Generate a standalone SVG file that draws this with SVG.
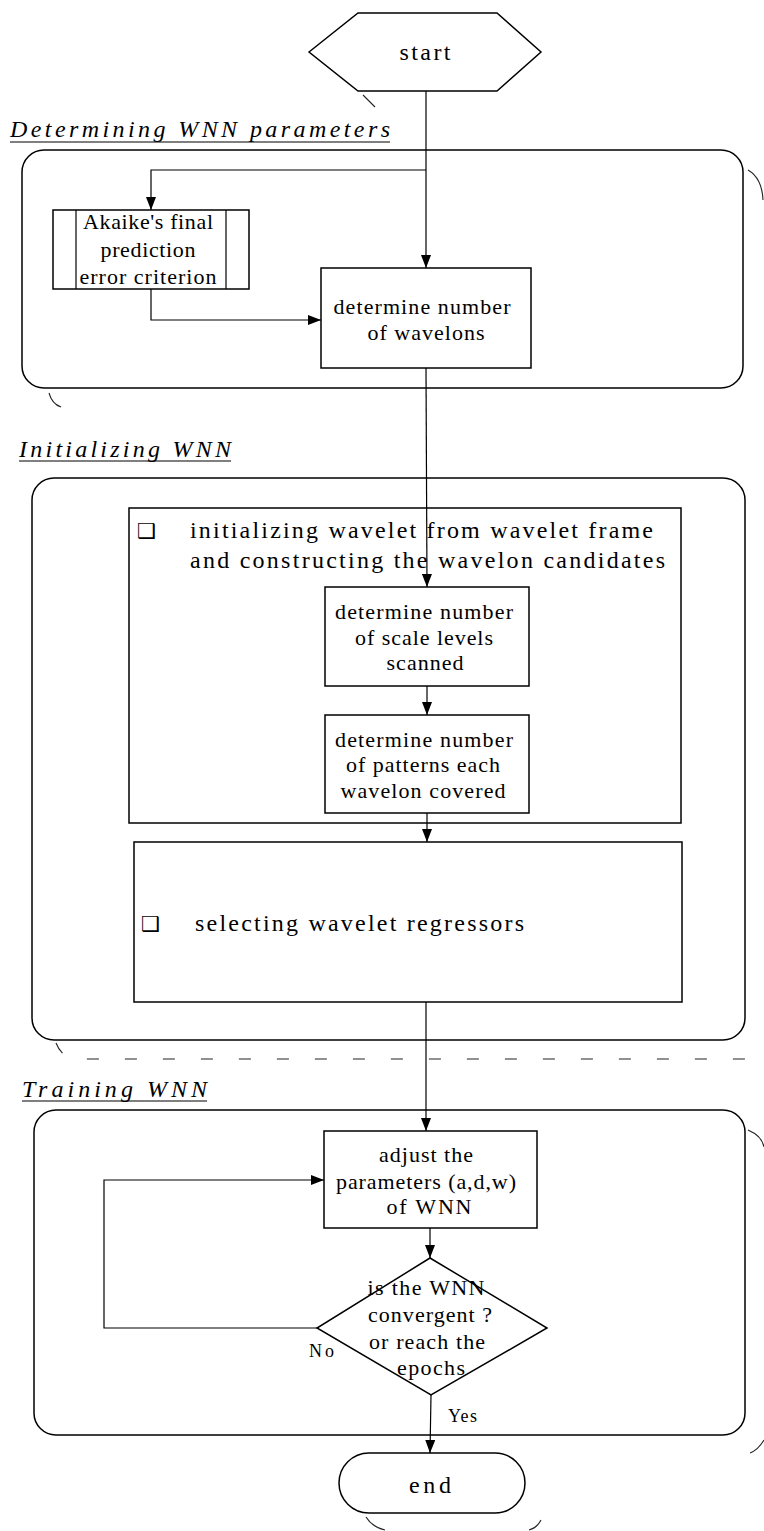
<svg xmlns="http://www.w3.org/2000/svg" width="764" height="1531" viewBox="0 0 764 1531">
<style>
.shape{fill:#fff;stroke:#000;stroke-width:1.5}
.line{fill:none;stroke:#000;stroke-width:1.2}
.shadow{fill:none;stroke:#222;stroke-width:1.1}
.t{font-family:"Liberation Serif",serif;font-size:22px;fill:#000;text-anchor:middle}
.big{font-size:24px}
.lft{text-anchor:start}
.title{font-family:"Liberation Serif",serif;font-size:24px;font-style:italic;fill:#000}
.lab{font-family:"Liberation Serif",serif;font-size:18px;fill:#000}
.bullet{font-family:"DejaVu Sans",sans-serif;font-size:21px;fill:#000}
</style>
<defs>
<marker id="ah" markerUnits="userSpaceOnUse" markerWidth="13" markerHeight="10" refX="13" refY="5" orient="auto">
<path d="M0,0 L13,5 L0,10 z" fill="#000"/>
</marker>
</defs>
<rect width="764" height="1531" fill="#fff"/>

<!-- section containers -->
<g id="section-determining">
<rect class="shape" x="22" y="150" width="721" height="238" rx="22"/>
<path class="shadow" d="M748,170 Q762,178 763,200"/>
<path class="shadow" d="M49,393 Q52,404 61,407"/>
<text class="title" x="10" y="137" textLength="380">Determining WNN parameters</text>
<line class="line" x1="10" y1="142" x2="390" y2="142"/>
</g>
<g id="section-initializing">
<rect class="shape" x="32" y="478" width="713" height="562" rx="22"/>
<path class="shadow" d="M56,1043 Q62,1058 76,1059 L745,1059 Q758,1058 764,1050" stroke-dasharray="12,26"/>
<text class="title" x="19" y="457" textLength="212">Initializing WNN</text>
<line class="line" x1="19" y1="461" x2="231" y2="461"/>
</g>
<g id="section-training">
<rect class="shape" x="34" y="1110" width="711" height="325" rx="22"/>
<path class="shadow" d="M748,1130 Q762,1136 764,1147"/>
<path class="shadow" d="M764,1440 Q758,1450 750,1453"/>
<text class="title" x="22" y="1097" textLength="185">Training WNN</text>
<line class="line" x1="22" y1="1101" x2="207" y2="1101"/>
</g>

<!-- nodes -->
<g id="start">
<polygon class="shape" points="309,52 358,13 497,13 541,52 497,91 358,91"/>
<path class="shadow" d="M363,95 L375,107"/>
<text class="t big" x="425" y="60" textLength="51">start</text>
</g>
<g id="akaike">
<rect class="shape" x="53" y="210" width="196" height="79"/>
<line class="line" x1="76" y1="210" x2="76" y2="289"/>
<line class="line" x1="226" y1="210" x2="226" y2="289"/>
<text class="t" x="148" y="229" textLength="130">Akaike's final</text>
<text class="t" x="148" y="257" textLength="95">prediction</text>
<text class="t" x="148" y="284" textLength="137">error criterion</text>
</g>
<g id="wavelons">
<rect class="shape" x="321" y="268" width="210" height="100"/>
<text class="t" x="422" y="314" textLength="177">determine number</text>
<text class="t" x="426" y="340" textLength="117">of wavelons</text>
</g>
<g id="init-wavelet">
<rect class="shape" x="129" y="508" width="552" height="315"/>
<text class="bullet" x="137" y="538">❑</text>
<text class="t big lft" x="190" y="538" textLength="463">initializing wavelet from wavelet frame</text>
<text class="t big lft" x="190" y="568" textLength="475">and constructing the wavelon candidates</text>
</g>
<g id="scale-levels">
<rect class="shape" x="325" y="587" width="204" height="99"/>
<text class="t" x="424" y="619" textLength="178">determine number</text>
<text class="t" x="424" y="645" textLength="138">of scale levels</text>
<text class="t" x="425" y="670" textLength="77">scanned</text>
</g>
<g id="patterns">
<rect class="shape" x="325" y="715" width="204" height="98"/>
<text class="t" x="424" y="747" textLength="178">determine number</text>
<text class="t" x="423" y="772" textLength="154">of patterns each</text>
<text class="t" x="423" y="798" textLength="165">wavelon covered</text>
</g>
<g id="select">
<rect class="shape" x="134" y="842" width="548" height="160"/>
<text class="bullet" x="141" y="931">❑</text>
<text class="t big lft" x="195" y="931" textLength="329">selecting wavelet regressors</text>
</g>
<g id="adjust">
<rect class="shape" x="324" y="1131" width="213" height="97"/>
<text class="t" x="426" y="1162" textLength="94">adjust the</text>
<text class="t" x="426" y="1189" textLength="180">parameters (a,d,w)</text>
<text class="t" x="429" y="1214" textLength="85">of WNN</text>
</g>
<g id="decision">
<polygon class="shape" points="430,1258 547,1328 431,1395 317,1328"/>
<text class="t" x="426" y="1295" textLength="117">is the WNN</text>
<text class="t" x="430" y="1322" textLength="124">convergent ?</text>
<text class="t" x="427" y="1349" textLength="116">or reach the</text>
<text class="t" x="431" y="1375" textLength="68">epochs</text>
</g>
<g id="end">
<rect class="shape" x="339" y="1453" width="186" height="60" rx="30"/>
<path class="shadow" d="M366,1517 Q372,1527 385,1530"/>
<path class="shadow" d="M541,1520 Q537,1528 529,1530"/>
<text class="t big" x="430" y="1493" textLength="42">end</text>
</g>

<!-- connectors -->
<g id="connectors">
<path class="line" d="M426,91 L426,268" marker-end="url(#ah)"/>
<path class="line" d="M426,170 L151,170 L151,210" marker-end="url(#ah)"/>
<path class="line" d="M151,289 L151,320 L321,320" marker-end="url(#ah)"/>
<path class="line" d="M426,368 L427,587" marker-end="url(#ah)"/>
<path class="line" d="M427,686 L427,715" marker-end="url(#ah)"/>
<path class="line" d="M427,813 L427,842" marker-end="url(#ah)"/>
<path class="line" d="M426,1002 L426,1131" marker-end="url(#ah)"/>
<path class="line" d="M430,1228 L430,1258" marker-end="url(#ah)"/>
<path class="line" d="M317,1328 L104,1328 L104,1180 L324,1180" marker-end="url(#ah)"/>
<path class="line" d="M431,1395 L430,1453" marker-end="url(#ah)"/>
<text class="lab" x="309" y="1357" textLength="25">No</text>
<text class="lab" x="448" y="1422" textLength="29">Yes</text>
</g>
</svg>
